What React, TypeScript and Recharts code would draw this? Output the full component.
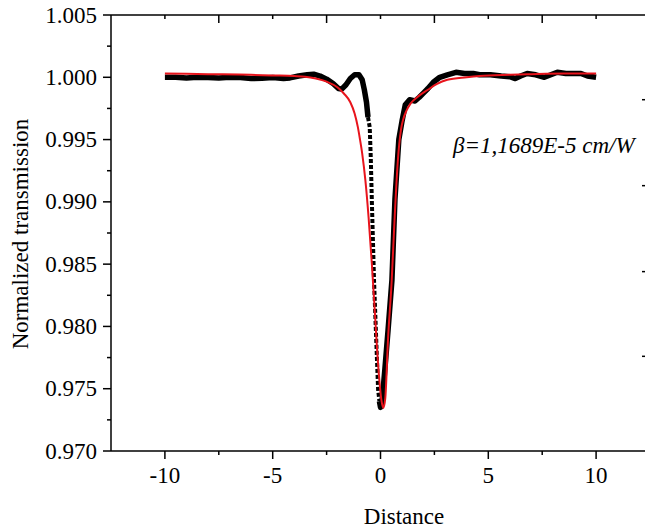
import { LineChart, Line, XAxis, YAxis } from "recharts";

const FONT = "'Liberation Serif', 'Times New Roman', serif";
const FS = 23;

// tick positions
const xTicks = [-10, -7.5, -5, -2.5, 0, 2.5, 5, 7.5, 10];
const yTicks = [
  0.97, 0.9725, 0.975, 0.9775, 0.98, 0.9825, 0.985, 0.9875, 0.99, 0.9925,
  0.995, 0.9975, 1.0, 1.0025, 1.005,
];
const rightTicks = [0.9776, 0.9844, 0.9913, 0.9982];

// measured transmission (black), split where the trace gets dotted
const measuredLeft = [
  { x: -10, y: 1.0 }, { x: -9.5, y: 1.0 }, { x: -9, y: 0.99995 },
  { x: -8.5, y: 1.0 }, { x: -8, y: 0.99998 }, { x: -7.5, y: 0.99995 },
  { x: -7, y: 1.0 }, { x: -6.5, y: 0.99998 }, { x: -6, y: 0.9999 },
  { x: -5.5, y: 0.99992 }, { x: -5, y: 0.99998 }, { x: -4.5, y: 0.9999 },
  { x: -4.2, y: 0.99995 }, { x: -3.8, y: 1.0001 }, { x: -3.4, y: 1.0002 },
  { x: -3.1, y: 1.00025 }, { x: -2.8, y: 1.0001 }, { x: -2.5, y: 0.99985 },
  { x: -2.2, y: 0.9995 }, { x: -1.95, y: 0.9991 }, { x: -1.8, y: 0.99905 },
  { x: -1.6, y: 0.9994 }, { x: -1.4, y: 0.9999 }, { x: -1.2, y: 1.0002 },
  { x: -1.0, y: 1.0002 }, { x: -0.85, y: 0.9998 }, { x: -0.75, y: 0.999 },
  { x: -0.65, y: 0.998 }, { x: -0.58, y: 0.9968 },
];
const measuredDip = [
  { x: -0.58, y: 0.9968 }, { x: -0.5, y: 0.996 }, { x: -0.45, y: 0.9935 },
  { x: -0.4, y: 0.99 }, { x: -0.3, y: 0.9837 }, { x: -0.2, y: 0.979 },
  { x: -0.11, y: 0.9749 }, { x: -0.05, y: 0.974 },
];
const measuredRight = [
  { x: -0.05, y: 0.974 }, { x: 0.0, y: 0.9735 }, { x: 0.05, y: 0.9737 },
  { x: 0.1, y: 0.9745 }, { x: 0.2, y: 0.9765 }, { x: 0.35, y: 0.9797 },
  { x: 0.53, y: 0.9837 }, { x: 0.67, y: 0.9902 }, { x: 0.85, y: 0.995 },
  { x: 1.0, y: 0.9965 }, { x: 1.15, y: 0.9978 }, { x: 1.35, y: 0.9982 },
  { x: 1.6, y: 0.9981 }, { x: 1.8, y: 0.9984 }, { x: 2.0, y: 0.99875 },
  { x: 2.2, y: 0.9991 }, { x: 2.45, y: 0.9996 }, { x: 2.75, y: 1.0 },
  { x: 3.1, y: 1.0002 }, { x: 3.5, y: 1.0004 }, { x: 3.9, y: 1.0003 },
  { x: 4.3, y: 1.0003 }, { x: 4.6, y: 1.0002 }, { x: 5.1, y: 1.0002 },
  { x: 5.6, y: 1.0001 }, { x: 6.0, y: 1.00005 }, { x: 6.25, y: 0.9999 },
  { x: 6.5, y: 1.0001 }, { x: 6.8, y: 1.0003 }, { x: 7.2, y: 1.0002 },
  { x: 7.6, y: 1.0 }, { x: 7.9, y: 1.0002 }, { x: 8.2, y: 1.0004 },
  { x: 8.6, y: 1.0003 }, { x: 9.0, y: 1.0003 }, { x: 9.3, y: 1.0003 },
  { x: 9.6, y: 1.0001 }, { x: 10.0, y: 1.0 },
];

// fitted curve (red)
const fit = [
  { x: -10, y: 1.0003 }, { x: -8, y: 1.00025 }, { x: -6, y: 1.0002 },
  { x: -5, y: 1.00015 }, { x: -4, y: 1.0001 }, { x: -3.5, y: 1.00005 },
  { x: -3, y: 0.9999 }, { x: -2.5, y: 0.99965 }, { x: -2, y: 0.9992 },
  { x: -1.7, y: 0.9987 }, { x: -1.4, y: 0.998 }, { x: -1.2, y: 0.9971 },
  { x: -1.05, y: 0.996 }, { x: -0.95, y: 0.995 }, { x: -0.85, y: 0.9939 },
  { x: -0.7, y: 0.9917 }, { x: -0.55, y: 0.9887 }, { x: -0.4, y: 0.985 },
  { x: -0.25, y: 0.9808 }, { x: -0.1, y: 0.9767 }, { x: 0.05, y: 0.974 },
  { x: 0.13, y: 0.97345 }, { x: 0.22, y: 0.9742 }, { x: 0.35, y: 0.979 },
  { x: 0.52, y: 0.9837 }, { x: 0.65, y: 0.9885 }, { x: 0.8, y: 0.9932 },
  { x: 0.95, y: 0.9958 }, { x: 1.05, y: 0.9966 }, { x: 1.2, y: 0.9973 },
  { x: 1.4, y: 0.9979 }, { x: 1.7, y: 0.9984 }, { x: 2.2, y: 0.999 },
  { x: 2.6, y: 0.99945 }, { x: 3.1, y: 0.9998 }, { x: 4.0, y: 1.0 },
  { x: 4.6, y: 1.0001 }, { x: 6, y: 1.0002 }, { x: 7, y: 1.00025 },
  { x: 8.5, y: 1.0003 }, { x: 10, y: 1.0003 },
];

const isMajorX = (v: number) => Number.isInteger(v) && v % 5 === 0;
const isMajorY = (v: number) => Math.round(v * 10000) % 50 === 0;

const BottomTick = ({ x, y, payload }: any) => {
  const major = isMajorX(payload.value);
  return (
    <g>
      <line x1={x} x2={x} y1={y} y2={y + (major ? 8 : 4)} stroke="#000" strokeWidth={1.5} />
      {major && (
        <text x={x} y={y + 32} textAnchor="middle" fontSize={FS} fontFamily={FONT} fill="#000">
          {payload.value}
        </text>
      )}
    </g>
  );
};

const TopTick = ({ x, y, payload }: any) => {
  const long = !isMajorX(payload.value);
  return <line x1={x} x2={x} y1={y} y2={y + (long ? 8 : 4)} stroke="#000" strokeWidth={1.5} />;
};

const LeftTick = ({ x, y, payload }: any) => {
  const major = isMajorY(payload.value);
  return (
    <g>
      <line x1={x} x2={x - (major ? 8 : 4)} y1={y} y2={y} stroke="#000" strokeWidth={1.5} />
      {major && (
        <text x={x - 14} y={y + 7.5} textAnchor="end" fontSize={FS} fontFamily={FONT} fill="#000">
          {payload.value.toFixed(3)}
        </text>
      )}
    </g>
  );
};

const RightTick = ({ x, y }: any) => (
  <line x1={x} x2={x - 8} y1={y} y2={y} stroke="#000" strokeWidth={1.5} />
);

const axisLine = { stroke: "#000", strokeWidth: 1.5 };

export default function App() {
  return (
    <div
      style={{
        position: "absolute",
        top: 0,
        left: 0,
        width: 645,
        height: 531,
        overflow: "hidden",
        background: "#fff",
      }}
    >
      <LineChart width={660} height={531} margin={{ top: 15, right: 10, bottom: 0, left: 0 }}>
        <XAxis
          xAxisId="b"
          type="number"
          dataKey="x"
          domain={[-12.5, 12.5]}
          ticks={xTicks}
          height={80}
          tickSize={0}
          tickMargin={0}
          axisLine={axisLine}
          tickLine={false}
          tick={<BottomTick />}
          allowDataOverflow
        />
        <XAxis
          xAxisId="t"
          orientation="top"
          mirror
          type="number"
          dataKey="x"
          domain={[-12.5, 12.5]}
          ticks={xTicks}
          tickSize={0}
          tickMargin={0}
          axisLine={axisLine}
          tickLine={false}
          tick={<TopTick />}
          allowDataOverflow
        />
        <YAxis
          yAxisId="l"
          type="number"
          domain={[0.97, 1.005]}
          ticks={yTicks}
          width={111}
          tickSize={0}
          tickMargin={0}
          axisLine={axisLine}
          tickLine={false}
          tick={<LeftTick />}
          allowDataOverflow
        />
        <YAxis
          yAxisId="r"
          orientation="right"
          mirror
          type="number"
          domain={[0.97, 1.005]}
          ticks={rightTicks}
          tickSize={0}
          tickMargin={0}
          axisLine={axisLine}
          tickLine={false}
          tick={<RightTick />}
          allowDataOverflow
        />
        <Line
          xAxisId="b"
          yAxisId="l"
          data={measuredLeft}
          dataKey="y"
          type="linear"
          stroke="#000"
          strokeWidth={5.5}
          strokeLinejoin="round"
          dot={false}
          activeDot={false}
          isAnimationActive={false}
        />
        <Line
          xAxisId="b"
          yAxisId="l"
          data={measuredDip}
          dataKey="y"
          type="linear"
          stroke="#000"
          strokeWidth={4}
          strokeDasharray="4 2"
          dot={false}
          activeDot={false}
          isAnimationActive={false}
        />
        <Line
          xAxisId="b"
          yAxisId="l"
          data={measuredRight}
          dataKey="y"
          type="linear"
          stroke="#000"
          strokeWidth={5.5}
          strokeLinejoin="round"
          dot={false}
          activeDot={false}
          isAnimationActive={false}
        />
        <Line
          xAxisId="b"
          yAxisId="l"
          data={fit}
          dataKey="y"
          type="monotone"
          stroke="#e8141c"
          strokeWidth={2}
          dot={false}
          activeDot={false}
          isAnimationActive={false}
        />
        <text x={453} y={153} fontSize={FS} fontStyle="italic" fontFamily={FONT} fill="#000">
          β=1,1689E-5 cm/W
        </text>
        <text
          x={28}
          y={234}
          transform="rotate(-90, 28, 234)"
          textAnchor="middle"
          fontSize={FS}
          fontFamily={FONT}
          fill="#000"
        >
          Normalized transmission
        </text>
        <text x={404} y={524} textAnchor="middle" fontSize={FS} fontFamily={FONT} fill="#000">
          Distance
        </text>
      </LineChart>
    </div>
  );
}
